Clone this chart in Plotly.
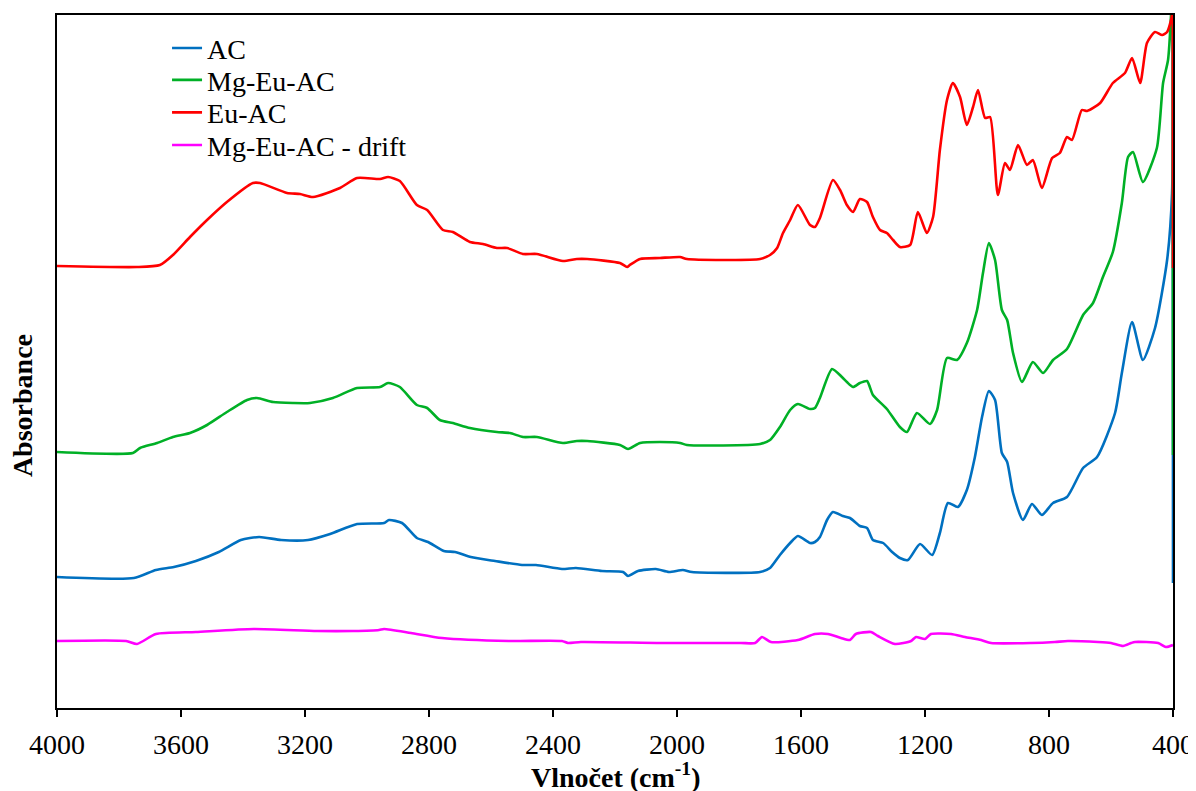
import plotly.graph_objects as go

# ---- data (wavenumber cm-1, absorbance in arbitrary offset units) ----
wn_ac = [4000, 3752, 3681, 3623, 3552, 3478, 3407, 3348, 3277, 3190, 3119, 3032, 2945, 2929, 2887,
         2839, 2803, 2752, 2716, 2665, 2587, 2500, 2455, 2371, 2326, 2242, 2174, 2158, 2126, 2068,
         2026, 1981, 1952, 1732, 1700, 1668, 1635, 1610, 1571, 1555, 1539, 1516, 1497, 1465, 1442,
         1410, 1387, 1368, 1335, 1306, 1281, 1255, 1216, 1177, 1152, 1126, 1094, 1065, 1039, 1016,
         994, 974, 952, 935, 916, 884, 855, 823, 787, 742, 690, 645, 587, 565, 532, 497, 458, 419,
         403, 401, 400]
ac = [1.31, 1.30, 1.38, 1.41, 1.47, 1.56, 1.68, 1.71, 1.68, 1.68, 1.74, 1.84, 1.85, 1.88, 1.85,
      1.70, 1.66, 1.57, 1.56, 1.51, 1.47, 1.43, 1.43, 1.39, 1.40, 1.37, 1.36, 1.32, 1.37, 1.39,
      1.36, 1.38, 1.36, 1.36, 1.40, 1.53, 1.65, 1.72, 1.65, 1.66, 1.71, 1.88, 1.96, 1.92, 1.90,
      1.82, 1.80, 1.68, 1.65, 1.56, 1.50, 1.48, 1.64, 1.53, 1.75, 2.05, 2.01, 2.18, 2.51, 2.91,
      3.17, 3.08, 2.55, 2.46, 2.15, 1.88, 2.04, 1.93, 2.05, 2.11, 2.40, 2.51, 2.95, 3.35, 3.86,
      3.48, 3.80, 4.48, 5.15, 7.40, 1.25]

wn_mg = [4000, 3755, 3732, 3677, 3626, 3571, 3516, 3452, 3387, 3355, 3303, 3239, 3184, 3110, 3032,
         2958, 2932, 2894, 2839, 2806, 2765, 2723, 2668, 2581, 2539, 2497, 2452, 2368, 2323, 2290,
         2184, 2158, 2119, 2055, 1990, 1968, 1732, 1700, 1668, 1635, 1610, 1571, 1555, 1539, 1500,
         1468, 1452, 1432, 1410, 1387, 1368, 1323, 1281, 1258, 1226, 1184, 1161, 1129, 1097, 1065,
         1032, 1013, 994, 974, 952, 935, 916, 887, 852, 819, 787, 742, 690, 658, 626, 594, 565,
         545, 529, 497, 452, 432, 416, 406, 401, 400]
mg = [2.56, 2.55, 2.60, 2.65, 2.71, 2.75, 2.83, 2.96, 3.08, 3.10, 3.06, 3.05, 3.05, 3.10, 3.20,
      3.21, 3.25, 3.21, 3.03, 3.00, 2.88, 2.85, 2.80, 2.76, 2.75, 2.71, 2.71, 2.65, 2.67, 2.67,
      2.63, 2.59, 2.65, 2.66, 2.65, 2.63, 2.64, 2.68, 2.81, 2.98, 3.04, 2.99, 3.00, 3.10, 3.39,
      3.31, 3.26, 3.21, 3.25, 3.27, 3.13, 2.99, 2.81, 2.76, 2.95, 2.84, 2.98, 3.50, 3.48, 3.65,
      3.98, 4.35, 4.65, 4.48, 3.98, 3.88, 3.55, 3.26, 3.46, 3.35, 3.48, 3.59, 3.93, 4.05, 4.31,
      4.56, 5.05, 5.51, 5.56, 5.26, 5.60, 6.25, 6.48, 6.95, 7.40, 2.53]

wn_eu = [4000, 3742, 3668, 3626, 3571, 3516, 3452, 3368, 3345, 3258, 3216, 3174, 3087, 3032, 2958,
         2932, 2894, 2839, 2806, 2755, 2723, 2668, 2626, 2581, 2548, 2497, 2452, 2368, 2323, 2290,
         2184, 2161, 2152, 2119, 2055, 1990, 1968, 1732, 1700, 1677, 1658, 1635, 1610, 1571, 1555,
         1539, 1497, 1474, 1452, 1432, 1410, 1387, 1368, 1345, 1323, 1303, 1281, 1248, 1223, 1194,
         1174, 1152, 1129, 1110, 1087, 1065, 1045, 1029, 1006, 990, 965, 942, 926, 900, 871, 852,
         823, 790, 765, 742, 726, 694, 677, 635, 594, 555, 532, 506, 484, 458, 435, 419, 403,
         401, 400]
eu = [4.42, 4.41, 4.43, 4.53, 4.71, 4.88, 5.06, 5.25, 5.25, 5.15, 5.14, 5.11, 5.20, 5.30, 5.29,
      5.31, 5.27, 5.03, 4.98, 4.78, 4.76, 4.66, 4.64, 4.60, 4.60, 4.54, 4.54, 4.47, 4.49, 4.49,
      4.45, 4.41, 4.43, 4.49, 4.50, 4.51, 4.49, 4.49, 4.53, 4.60, 4.75, 4.88, 5.03, 4.83, 4.81,
      4.90, 5.28, 5.18, 5.03, 4.96, 5.09, 5.06, 4.91, 4.78, 4.75, 4.68, 4.61, 4.63, 4.96, 4.75,
      4.91, 5.58, 6.08, 6.25, 6.11, 5.83, 6.01, 6.18, 5.90, 5.91, 5.13, 5.45, 5.38, 5.63, 5.43,
      5.48, 5.20, 5.50, 5.55, 5.71, 5.68, 5.98, 5.97, 6.05, 6.25, 6.35, 6.50, 6.25, 6.65, 6.76,
      6.73, 6.76, 6.93, 7.40, 4.40]

wn_drift = [4000, 3777, 3742, 3681, 3552, 3365, 3161, 3045, 2961, 2945, 2858, 2758, 2542, 2371,
            2352, 2310, 2052, 1794, 1748, 1726, 1697, 1610, 1555, 1513, 1471, 1442, 1423, 1374,
            1352, 1297, 1245, 1229, 1200, 1181, 1116, 1071, 1019, 987, 858, 781, 739, 642, 600,
            561, 535, 523, 448, 423, 400]
drift = [0.67, 0.67, 0.64, 0.74, 0.76, 0.79, 0.77, 0.77, 0.78, 0.79, 0.75, 0.70, 0.67, 0.67,
         0.65, 0.66, 0.65, 0.65, 0.65, 0.71, 0.66, 0.68, 0.74, 0.74, 0.70, 0.68, 0.74, 0.76,
         0.72, 0.64, 0.67, 0.71, 0.69, 0.74, 0.74, 0.71, 0.68, 0.65, 0.65, 0.66, 0.67, 0.66, 0.65,
         0.62, 0.65, 0.66, 0.65, 0.61, 0.63]

names = ["AC", "Mg-Eu-AC", "Eu-AC", "Mg-Eu-AC - drift"]
colors = ["#0070C0", "#00B026", "#FF0000", "#FF00FF"]
xs = [wn_ac, wn_mg, wn_eu, wn_drift]
ys = [ac, mg, eu, drift]

FONT = "Liberation Serif"
FS = 28
legend_ids = ["legend", "legend2", "legend3", "legend4"]
legend_rows_y = [0.952, 0.906, 0.859, 0.812]

fig = go.Figure()
for n, c, x, y, lg in zip(names, colors, xs, ys, legend_ids):
    fig.add_trace(go.Scatter(x=x, y=y, mode="lines", name=n, legend=lg,
                             line=dict(color=c, width=2.6, shape="spline", smoothing=0.6)))

legend_common = dict(x=0.0986, xanchor="left", yanchor="middle",
                     bgcolor="rgba(0,0,0,0)", borderwidth=0,
                     font=dict(family=FONT, size=FS, color="black"), itemwidth=30)
layout_legends = {lg: dict(y=yy, **legend_common) for lg, yy in zip(legend_ids, legend_rows_y)}

fig.update_layout(
    width=1196, height=791,
    margin=dict(l=49, r=31, t=7, b=91, autoexpand=False),
    paper_bgcolor="white", plot_bgcolor="white",
    font=dict(family=FONT, size=FS, color="black"),
    showlegend=True,
    xaxis=dict(range=[4000, 400], tickmode="linear", tick0=400, dtick=400,
               automargin=False,
               showgrid=False, zeroline=False, showline=True, linecolor="black",
               linewidth=2, mirror=True, ticks="outside", ticklen=7, tickwidth=2,
               tickcolor="black", tickfont=dict(family=FONT, size=FS),
               ticklabelstandoff=3),
    yaxis=dict(range=[0, 6.93], automargin=False, showgrid=False, zeroline=False,
               showline=True, linecolor="black", linewidth=2, mirror=True, ticks="",
               showticklabels=False),
    annotations=[
        dict(text="<b>Vlnočet (cm<sup>-1</sup>)</b>", xref="paper", yref="paper",
             x=0.5, y=0, xanchor="center", yanchor="bottom", yshift=-86,
             borderpad=0,
             showarrow=False, font=dict(family=FONT, size=FS, color="black")),
        dict(text="<b>Absorbance</b>", xref="paper", yref="paper",
             x=-0.0314, y=0.437, xanchor="center", yanchor="middle",
             textangle=-90, showarrow=False,
             font=dict(family=FONT, size=FS, color="black")),
    ],
    **layout_legends,
)

fig.write_html("out.html")
